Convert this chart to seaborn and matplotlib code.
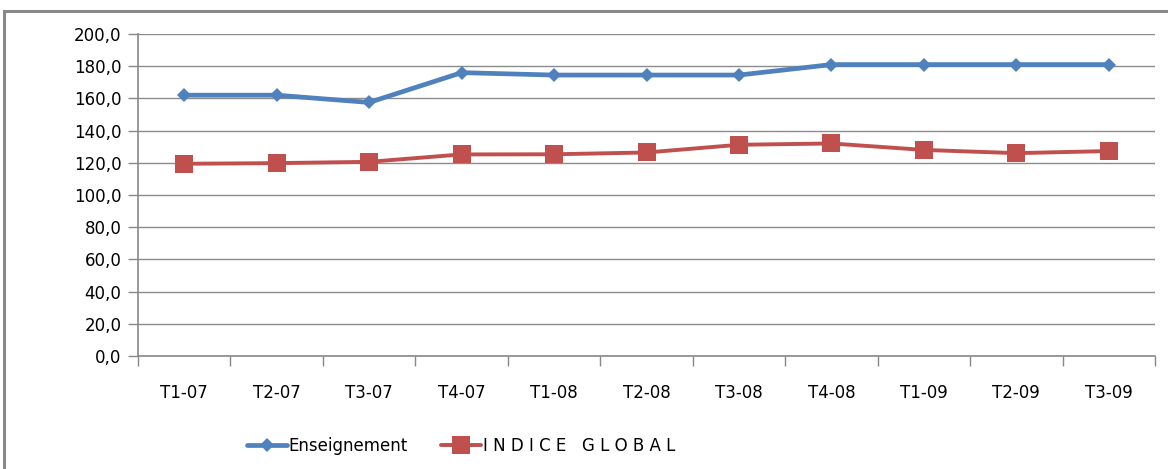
import matplotlib
matplotlib.use("Agg")
import matplotlib.pyplot as plt
import seaborn as sns
import pandas as pd
import numpy as np
from matplotlib.patches import Rectangle
from matplotlib.lines import Line2D
from matplotlib.ticker import FuncFormatter, FixedLocator

categories = ["T1-07", "T2-07", "T3-07", "T4-07", "T1-08", "T2-08", "T3-08", "T4-08", "T1-09", "T2-09", "T3-09"]
enseignement = [162.0, 162.0, 157.5, 176.0, 174.5, 174.5, 174.5, 181.0, 181.0, 181.0, 181.0]
indice_global = [119.4, 119.8, 120.6, 125.2, 125.3, 126.4, 131.2, 132.0, 128.0, 126.0, 127.3]
series_names = ["Enseignement", "I N D I C E   G L O B A L"]
y_ticks = [0, 20, 40, 60, 80, 100, 120, 140, 160, 180, 200]

sns.set_style("white")
plt.rcParams['font.family'] = ['DejaVu Sans']
plt.rcParams['text.color'] = 'black'

df = pd.DataFrame({
    "pos": list(range(len(categories))) * 2,
    "value": enseignement + indice_global,
    "series": [series_names[0]] * len(categories) + [series_names[1]] * len(categories),
})

fig = plt.figure(figsize=(11.68, 4.69), dpi=100)
ax = fig.add_axes([138/1168, 1 - 356/469, (1155-138)/1168, (356-34)/469])

palette = {series_names[0]: "#4F81BD", series_names[1]: "#C0504D"}
sns.lineplot(data=df, x="pos", y="value", hue="series", style="series",
             markers={series_names[0]: "D", series_names[1]: "s"},
             dashes=False, palette=palette, ax=ax, legend=False)
lines = ax.get_lines()
lines[0].set_linewidth(3.4); lines[0].set_markersize(7.5)
lines[0].set_markeredgewidth(0)
lines[1].set_linewidth(2.8); lines[1].set_markersize(13)
lines[1].set_markeredgewidth(0)
lines[0].set_zorder(4); lines[1].set_zorder(3)

ax.set_xlim(-0.5, len(categories) - 0.5)
ax.set_ylim(0, 200)
ax.set_yticks(y_ticks)
ax.yaxis.set_major_formatter(FuncFormatter(lambda v, p: f"{v:.1f}".replace(".", ",")))
ax.set_xticks(range(len(categories)))
ax.set_xticklabels(categories)
ax.xaxis.set_minor_locator(FixedLocator(np.arange(-0.5, len(categories), 1.0)))
ax.tick_params(axis="x", which="major", bottom=True, length=0, pad=20, labelsize=12, labelcolor="black")
ax.tick_params(axis="x", which="minor", bottom=True, length=7, width=1, color="#888888", direction="out")
ax.tick_params(axis="y", which="major", left=True, length=7, width=1, color="#888888", direction="out",
               pad=5, labelsize=12, labelcolor="black")
ax.set_xlabel(""); ax.set_ylabel("")
ax.grid(axis="y", color="#8c8c8c", linewidth=1)
ax.set_axisbelow(True)
for s in ["top", "right"]:
    ax.spines[s].set_visible(False)
for s in ["left", "bottom"]:
    ax.spines[s].set_color("#888888")
    ax.spines[s].set_linewidth(1.2)

handles = [Line2D([], [], color="#4F81BD", lw=3.4, marker="D", ms=7.5, mew=0),
           Line2D([], [], color="#C0504D", lw=2.8, marker="s", ms=13, mew=0)]
leg = fig.legend(handles, series_names, loc="center", bbox_to_anchor=(461/1168, 1 - 446/469),
                 ncol=2, frameon=False, fontsize=12, handlelength=2.4, handletextpad=0.1,
                 columnspacing=2.0)
for t in leg.get_texts():
    t.set_color("black")

fig.patches.append(Rectangle((4/1168, -0.05), 1.2, 1 - 11/469 + 0.05, transform=fig.transFigure,
                             fill=False, edgecolor="#888888", linewidth=2.2))

fig.savefig("out.png", dpi=100)
